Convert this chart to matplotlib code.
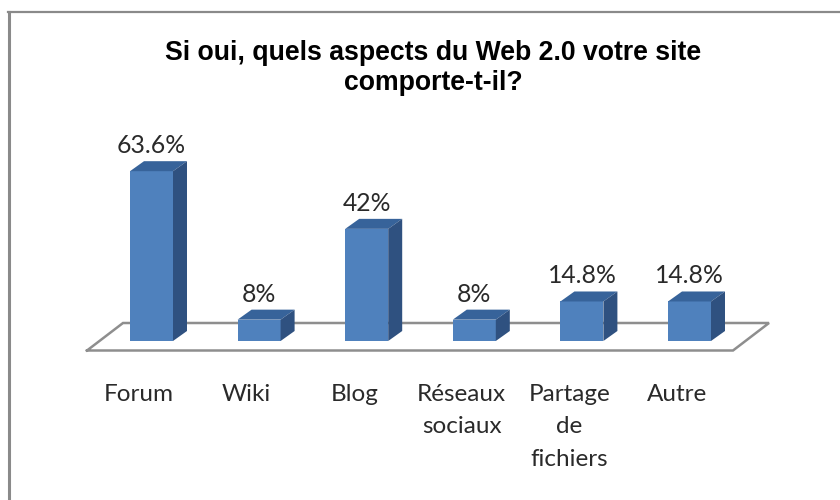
import matplotlib
matplotlib.use('Agg')
import matplotlib.pyplot as plt
from matplotlib.lines import Line2D

categories = ['Forum', 'Wiki', 'Blog', 'Réseaux\nsociaux', 'Partage\nde\nfichiers', 'Autre']
values = [63.6, 8, 42, 8, 14.8, 14.8]
labels = ['63.6%', '8%', '42%', '8%', '14.8%', '14.8%']
title = 'Si oui, quels aspects du Web 2.0 votre site\ncomporte-t-il?'

W, H = 840, 500
step = 107.6      # px per category
per = 2.67        # px per percent
x0 = 151.5        # px of first category
base = 341        # px of the zero line
bottom_px = 353

fig = plt.figure(figsize=(W / 100, H / 100), dpi=100, facecolor='white')
ax = fig.add_axes([0, (H - bottom_px) / H, 1, bottom_px / H])
ax.set_xlim(-x0 / step, (W - x0) / step)
ax.set_ylim((base - bottom_px) / per, base / per)
ax.patch.set_alpha(0)
for s in ax.spines.values():
    s.set_visible(False)
ax.set_yticks([])

# 3d offsets in data units
dx = 14 / step
dy = 10 / per
bw = 43 / step

# floor of the 3d chart
fx = [(p - x0) / step for p in [87, 733, 769, 123, 87]]
fy = [(base - p) / per for p in [350.5, 350.5, 323, 323, 350.5]]
ax.plot(fx, fy, color='#8e8e8e', lw=1.8, solid_joinstyle='miter', zorder=1)

pos = list(range(len(values)))
ax.bar(pos, values, width=bw, color='#4f81bd', zorder=3)
for i, v in zip(pos, values):
    l, r = i - bw / 2, i + bw / 2
    ax.fill([l, r, r + dx, l + dx], [v, v, v + dy, v + dy], color='#37639a', lw=0, zorder=3)
    ax.fill([r, r + dx, r + dx, r], [0, dy, v + dy, v], color='#2f5180', lw=0, zorder=3)

for i, v, t in zip(pos, values, labels):
    ax.text(i, v + dy + 1.5, t, ha='center', va='bottom', fontsize=17.8,
            family='Lato', color='#2a2a2a')

# category labels sit a bit left of the bars in the original
ax.set_xticks([p - 12.5 / step for p in pos])
ax.set_xticklabels(categories, fontsize=17.5, family='Lato', color='#2a2a2a', linespacing=1.68)
ax.tick_params(axis='x', length=0, pad=22)

fig.text(433 / W, 1 - 68.5 / H, title, ha='center', va='center', fontsize=19.2,
         family='Liberation Sans', weight='bold', color='black', linespacing=1.2)

# chart frame, only top and left are visible
fig.add_artist(Line2D([9 / W, 9 / W], [0, 1 - 12 / H], color='#8a8a8a', lw=2.2))
fig.add_artist(Line2D([8 / W, 1], [1 - 12 / H, 1 - 12 / H], color='#8a8a8a', lw=1.6))

fig.savefig('out.png', dpi=100)
